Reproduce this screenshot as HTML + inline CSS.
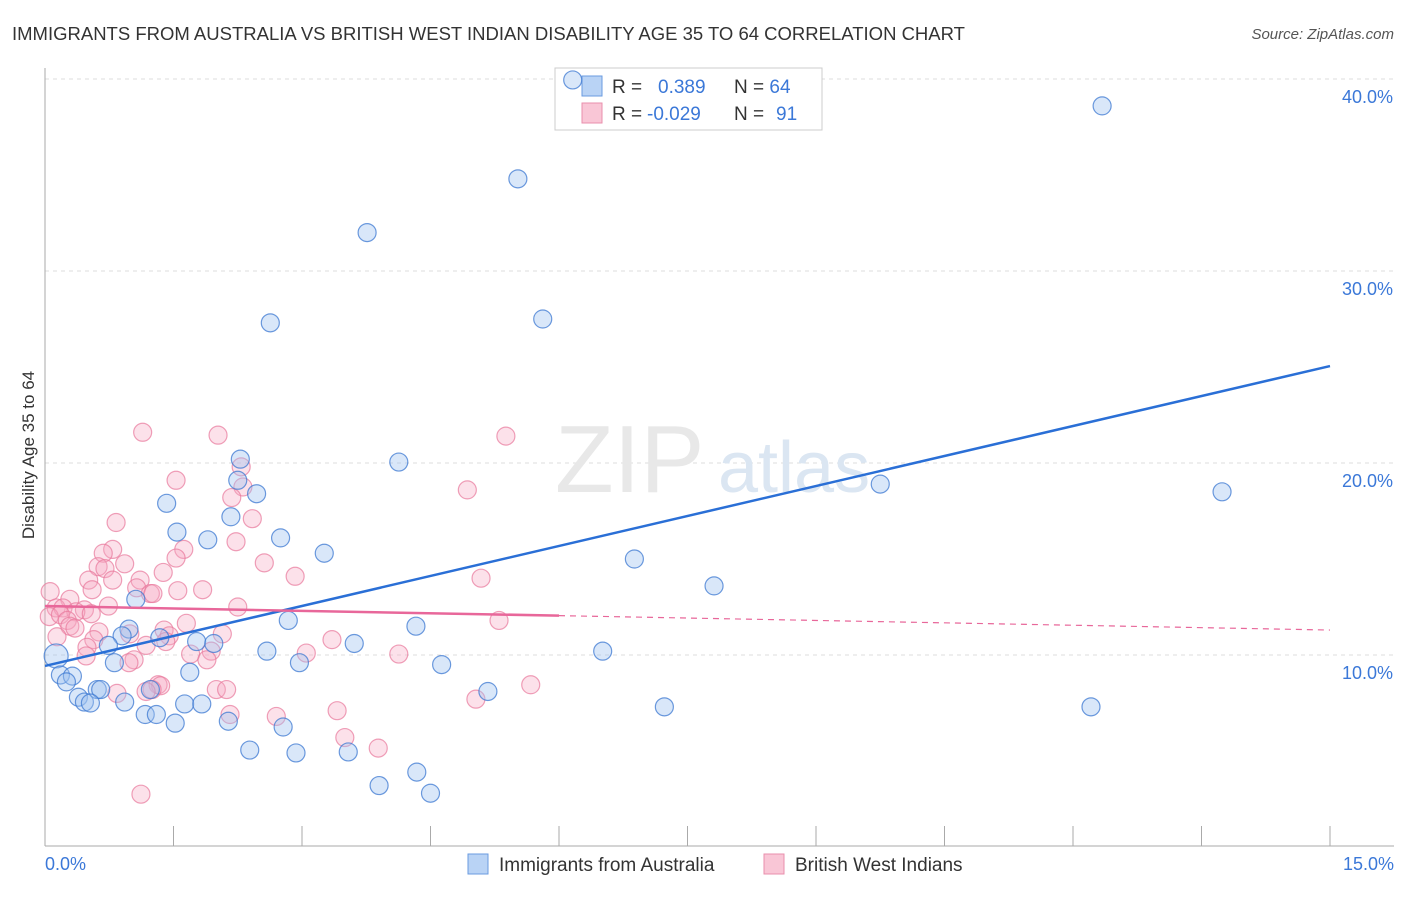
<!DOCTYPE html>
<html><head><meta charset="utf-8"><style>
body{margin:0;background:#fff;font-family:"Liberation Sans",sans-serif;}
svg text{font-family:"Liberation Sans",sans-serif;}
</style></head><body>
<svg width="1406" height="892" xmlns="http://www.w3.org/2000/svg">
<text x="12" y="40" font-size="18.5" fill="#333">IMMIGRANTS FROM AUSTRALIA VS BRITISH WEST INDIAN DISABILITY AGE 35 TO 64 CORRELATION CHART</text>
<text x="1394" y="39" font-size="15" fill="#555" font-style="italic" text-anchor="end">Source: ZipAtlas.com</text>
<g id="grid"></g>
<text x="555" y="492" font-size="96" font-family="Liberation Serif" fill="#e8e8e8">ZIP</text>
<text x="718" y="492" font-size="72" fill="#dbe6f2">atlas</text>
<line x1="45" y1="68" x2="45" y2="846" stroke="#aaa"/>
<line x1="45" y1="846" x2="1394" y2="846" stroke="#aaa"/>
<text transform="translate(34,455) rotate(-90)" font-size="17" fill="#333" text-anchor="middle">Disability Age 35 to 64</text>
<text x="45" y="870" font-size="18" fill="#3b78d8">0.0%</text>
<text x="1394" y="870" font-size="18" fill="#3b78d8" text-anchor="end">15.0%</text>
<g>
<rect x="555" y="68" width="267" height="62" fill="#fff" stroke="#ccc"/>
<rect x="582" y="76" width="20" height="20" fill="#b9d3f5" stroke="#6a9be0"/>
<rect x="582" y="103" width="20" height="20" fill="#f9c6d6" stroke="#e98fac"/>
<text x="612" y="93" font-size="19" fill="#333">R = <tspan fill="#3b78d8" x="658">0.389</tspan><tspan x="734" fill="#333">N = </tspan><tspan fill="#3b78d8">64</tspan></text>
<text x="612" y="120" font-size="19" fill="#333">R = <tspan fill="#3b78d8" x="647">-0.029</tspan><tspan x="734" fill="#333">N = </tspan><tspan fill="#3b78d8" x="776">91</tspan></text>
</g>
<g id="pts"></g>
<g id="trends"></g>
<g>
<rect x="468" y="854" width="20" height="20" fill="#b9d3f5" stroke="#6a9be0"/>
<text x="499" y="871" font-size="19" fill="#333">Immigrants from Australia</text>
<rect x="764" y="854" width="20" height="20" fill="#f9c6d6" stroke="#e98fac"/>
<text x="795" y="871" font-size="19" fill="#333">British West Indians</text>
</g>
</svg>
<script>
const yTicks=[10,20,30,40];
const yTickLabels=["10.0%","20.0%","30.0%","40.0%"];
const xTicks=[0,1.5,3,4.5,6,7.5,9,10.5,12,13.5,15];
const blueX=[6.16,12.34,5.52,3.76,2.63,5.81,4.13,2.28,2.25,2.47,9.75,13.74,1.42,2.17,1.54,1.9,2.75,3.26,6.88,7.81,1.06,2.84,4.33,0.98,0.9,1.34,1.77,1.97,0.74,3.61,2.59,6.51,0.13,0.81,2.97,4.63,1.69,0.18,0.32,0.25,0.61,0.65,1.23,5.17,0.39,0.46,0.53,0.93,1.63,1.83,7.23,12.21,1.17,1.3,1.52,2.14,2.78,2.39,2.93,3.54,4.34,3.9,4.5];
const blueY=[39.95,38.6,34.8,32.0,27.3,27.5,20.05,20.2,19.1,18.4,18.9,18.5,17.9,17.2,16.4,16.0,16.1,15.3,15.0,13.6,12.9,11.8,11.5,11.35,11.0,10.9,10.7,10.6,10.5,10.6,10.2,10.2,9.95,9.6,9.6,9.5,9.1,8.96,8.9,8.6,8.2,8.2,8.2,8.1,7.8,7.55,7.5,7.55,7.45,7.45,7.3,7.3,6.9,6.9,6.45,6.55,6.25,5.05,4.9,4.95,3.9,3.2,2.8];
const pinkX=[1.14,2.02,5.38,2.29,1.53,2.31,4.93,2.18,2.42,0.83,2.23,1.62,0.79,0.68,1.53,2.56,0.93,0.62,0.7,1.38,2.92,5.09,0.51,1.11,0.79,1.07,1.84,0.55,1.55,0.06,1.23,1.26,0.29,0.74,2.25,0.13,0.21,0.46,0.36,0.54,0.05,0.18,0.26,0.29,1.65,5.3,0.35,0.63,1.39,1.45,0.99,2.07,0.14,0.57,3.35,1.41,0.49,1.18,1.94,3.05,1.7,4.13,1.04,1.89,0.98,0.48,5.67,1.32,1.35,1.25,1.18,0.84,2.0,2.12,5.03,3.41,2.16,2.7,3.5,3.89,1.12];
const pinkY=[21.6,21.45,21.4,19.8,19.1,18.75,18.6,18.2,17.1,16.9,15.9,15.5,15.5,15.3,15.05,14.8,14.75,14.6,14.5,14.3,14.1,14.0,13.9,13.9,13.9,13.5,13.4,13.4,13.35,13.3,13.2,13.2,12.9,12.55,12.5,12.45,12.45,12.35,12.25,12.15,12.0,12.1,11.8,11.5,11.65,11.8,11.4,11.2,11.3,11.0,11.1,11.1,10.95,10.8,10.8,10.7,10.4,10.5,10.2,10.1,10.05,10.05,9.75,9.75,9.6,9.95,8.45,8.45,8.4,8.2,8.1,8.0,8.2,8.2,7.7,7.1,6.9,6.8,5.7,5.15,2.75];
const blueTrend=[9.43,25.05];
const pinkTrend=[12.55,11.3];
const NS="http://www.w3.org/2000/svg";
const X=v=>45+v*(1285/15), Y=v=>847-v*19.2;
function mk(t,a,p){const e=document.createElementNS(NS,t);for(const k in a)e.setAttribute(k,a[k]);p.appendChild(e);return e;}
const grid=document.getElementById('grid');
yTicks.forEach((t,i)=>{
 const l=mk('line',{x1:45,x2:1394,y1:Y(t),y2:Y(t),stroke:'#ddd','stroke-dasharray':'4,4'},grid);
 
 
 const tx=mk('text',{x:1393,y:Y(t)+24,'font-size':18,fill:'#3b78d8','text-anchor':'end'},grid);
 tx.textContent=yTickLabels[i];
 
 
});
xTicks.forEach(t=>{
 const l=mk('line',{x1:X(t),x2:X(t),y1:826,y2:846,stroke:'#aaa'},grid);
 
 
});
const pts=document.getElementById('pts');
pinkX.forEach((x,i)=>{
 const c=mk('circle',{cx:X(x),cy:Y(pinkY[i]),r:9,fill:'rgba(246,170,195,0.35)',stroke:'rgba(232,120,155,0.7)','stroke-width':1.2},pts);
 
 
});
blueX.forEach((x,i)=>{
 const c=mk('circle',{cx:X(x),cy:Y(blueY[i]),r:(i==32?12:9),fill:'rgba(160,195,240,0.4)',stroke:'rgba(60,120,210,0.75)','stroke-width':1.2},pts);
 
 
});
const tr=document.getElementById('trends');
const b=mk('line',{x1:X(0),y1:Y(blueTrend[0]),x2:X(15),y2:Y(blueTrend[1]),stroke:'#2a6fd6','stroke-width':2.5},tr);


const pm=pinkTrend[0]+(pinkTrend[1]-pinkTrend[0])*(6/15);
const p1=mk('line',{x1:X(0),y1:Y(pinkTrend[0]),x2:X(6),y2:Y(pm),stroke:'#e8679a','stroke-width':2.5},tr);


const p2=mk('line',{x1:X(6),y1:Y(pm),x2:X(15),y2:Y(pinkTrend[1]),stroke:'#e8679a','stroke-width':1.2,'stroke-dasharray':'6,5'},tr);


</script>
</body></html>
